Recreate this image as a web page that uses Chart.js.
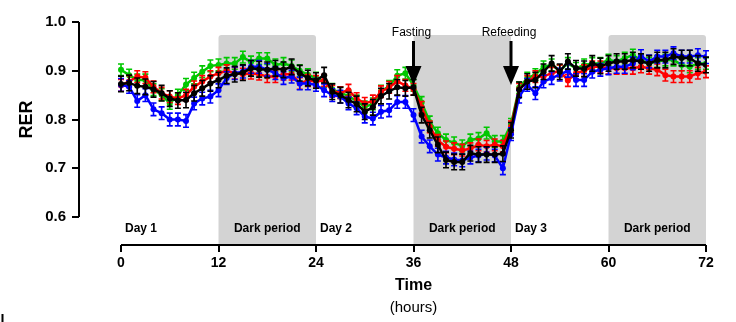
<!DOCTYPE html>
<html>
<head>
<meta charset="utf-8">
<script src="https://cdn.jsdelivr.net/npm/chart.js@4.4.1/dist/chart.umd.min.js"></script>
<style>
  html, body { margin: 0; padding: 0; background: #fff; }
</style>
</head>
<body>
<canvas id="rerChart" width="736" height="322"></canvas>
<script>
// hours of recording
const hours = [0,1,2,3,4,5,6,7,8,9,10,11,12,13,14,15,16,17,18,19,20,21,22,23,24,
  25,26,27,28,29,30,31,32,33,34,35,36,37,38,39,40,41,42,43,44,45,46,47,48,
  49,50,51,52,53,54,55,56,57,58,59,60,61,62,63,64,65,66,67,68,69,70,71,72];

// mean RER per hour, one list per group
const green = [0.902,0.891,0.881,0.881,0.861,0.851,0.833,0.850,0.872,0.885,
  0.898,0.910,0.912,0.915,0.915,0.928,0.918,0.925,0.925,0.912,
  0.915,0.910,0.900,0.892,0.885,0.878,0.862,0.855,0.848,0.838,
  0.826,0.832,0.858,0.868,0.890,0.895,0.870,0.835,0.795,0.772,
  0.758,0.752,0.746,0.758,0.761,0.772,0.755,0.755,0.790,0.865,
  0.885,0.892,0.908,0.912,0.900,0.915,0.905,0.912,0.915,0.915,
  0.922,0.919,0.926,0.932,0.922,0.915,0.919,0.922,0.922,0.912,
  0.908,0.915,0.915];
const red = [0.870,0.878,0.888,0.886,0.867,0.854,0.847,0.843,0.850,0.867,
  0.878,0.888,0.895,0.900,0.895,0.893,0.895,0.893,0.888,0.888,
  0.893,0.893,0.874,0.880,0.878,0.880,0.858,0.855,0.860,0.843,
  0.833,0.838,0.857,0.866,0.878,0.870,0.862,0.825,0.785,0.757,
  0.744,0.740,0.737,0.740,0.748,0.745,0.748,0.745,0.785,0.862,
  0.878,0.888,0.888,0.895,0.900,0.880,0.895,0.900,0.908,0.908,
  0.905,0.905,0.905,0.905,0.908,0.905,0.902,0.891,0.888,0.888,
  0.888,0.895,0.898];
const blue = [0.871,0.867,0.838,0.850,0.821,0.813,0.800,0.800,0.797,0.833,
  0.843,0.847,0.860,0.885,0.895,0.898,0.908,0.908,0.902,0.895,
  0.885,0.888,0.874,0.874,0.871,0.860,0.850,0.847,0.833,0.823,
  0.806,0.802,0.816,0.819,0.836,0.836,0.809,0.765,0.745,0.728,
  0.722,0.718,0.716,0.722,0.726,0.730,0.726,0.700,0.770,0.847,
  0.871,0.854,0.878,0.885,0.892,0.900,0.881,0.881,0.898,0.902,
  0.905,0.908,0.908,0.915,0.930,0.919,0.929,0.929,0.936,0.929,
  0.929,0.932,0.928];
const black = [0.873,0.875,0.869,0.867,0.862,0.854,0.843,0.839,0.840,0.854,
  0.864,0.874,0.881,0.890,0.893,0.896,0.905,0.903,0.902,0.905,
  0.902,0.908,0.895,0.885,0.880,0.891,0.857,0.850,0.840,0.832,
  0.816,0.825,0.848,0.858,0.866,0.864,0.866,0.809,0.778,0.748,
  0.717,0.713,0.713,0.731,0.728,0.728,0.728,0.730,0.778,0.861,
  0.878,0.881,0.898,0.915,0.898,0.919,0.905,0.904,0.915,0.910,
  0.915,0.919,0.919,0.922,0.919,0.915,0.922,0.922,0.929,0.926,
  0.926,0.915,0.912];

// rough SEM
const semGreen = 0.012, semRed = 0.012, semBlue = 0.013, semBlack = 0.016;

const xTicks = [0, 12, 24, 36, 48, 60, 72];
const yTicks = [0.6, 0.7, 0.8, 0.9, 1.0];
const darkPeriods = [[12, 24], [36, 48], [60, 72]];
const dayLabels = [[0, 'Day 1'], [24, 'Day 2'], [48, 'Day 3']];
const arrows = [[36, 'Fasting'], [48, 'Refeeding']];

const FONT = '"Liberation Sans", Arial, sans-serif';

function pts(vals) {
  return hours.map((h, i) => ({ x: h, y: vals[i] }));
}

function series(vals, sem, color, order) {
  return {
    data: pts(vals),
    sem: sem,
    borderColor: color,
    backgroundColor: color,
    borderWidth: 2.5,
    pointRadius: 3,
    pointBorderWidth: 0,
    pointBackgroundColor: color,
    tension: 0,
    order: order
  };
}

const decor = {
  id: 'decor',
  beforeDatasetsDraw(chart) {
    const ctx = chart.ctx, xs = chart.scales.x, area = chart.chartArea;
    ctx.save();
    ctx.fillStyle = '#d3d3d3';
    darkPeriods.forEach(p => {
      const x0 = xs.getPixelForValue(p[0]), x1 = xs.getPixelForValue(p[1]);
      ctx.beginPath();
      ctx.roundRect(x0, 35, x1 - x0, area.bottom - 35, [3, 3, 0, 0]);
      ctx.fill();
    });
    ctx.restore();
  },
  afterDatasetDraw(chart, args) {
    const ctx = chart.ctx, ys = chart.scales.y;
    const ds = chart.data.datasets[args.index];
    ctx.save();
    ctx.strokeStyle = ds.borderColor;
    ctx.lineWidth = 1.6;
    args.meta.data.forEach((el, i) => {
      const v = ds.data[i].y;
      const top = ys.getPixelForValue(v + ds.sem), bot = ys.getPixelForValue(v - ds.sem);
      ctx.beginPath();
      ctx.moveTo(el.x, top); ctx.lineTo(el.x, bot);
      ctx.moveTo(el.x - 3, top); ctx.lineTo(el.x + 3, top);
      ctx.moveTo(el.x - 3, bot); ctx.lineTo(el.x + 3, bot);
      ctx.stroke();
    });
    ctx.restore();
  },
  afterDraw(chart) {
    const ctx = chart.ctx, xs = chart.scales.x, ys = chart.scales.y, area = chart.chartArea;
    ctx.save();
    // axis lines (offset, Prism style)
    ctx.strokeStyle = '#000';
    ctx.lineWidth = 2;
    ctx.beginPath();
    ctx.moveTo(area.left, ys.getPixelForValue(1.0));
    ctx.lineTo(area.left, ys.getPixelForValue(0.6));
    ctx.moveTo(xs.getPixelForValue(0), area.bottom);
    ctx.lineTo(xs.getPixelForValue(72), area.bottom);
    // stray mark bottom left
    ctx.moveTo(2.5, 314); ctx.lineTo(2.5, 322);
    ctx.stroke();

    ctx.fillStyle = '#000';
    ctx.textBaseline = 'middle';
    // day / dark labels
    ctx.font = 'bold 12px ' + FONT;
    ctx.textAlign = 'left';
    dayLabels.forEach(d => ctx.fillText(d[1], xs.getPixelForValue(d[0]) + 4, 229));
    ctx.textAlign = 'center';
    darkPeriods.forEach(p => ctx.fillText('Dark period', xs.getPixelForValue((p[0] + p[1]) / 2), 229));

    // arrows
    ctx.font = '12px ' + FONT;
    arrows.forEach(a => {
      const x = xs.getPixelForValue(a[0]);
      ctx.fillText(a[1], x - 2, 33);
      ctx.beginPath();
      ctx.moveTo(x, 41); ctx.lineTo(x, 68);
      ctx.lineWidth = 3;
      ctx.stroke();
      ctx.beginPath();
      ctx.moveTo(x - 8, 66); ctx.lineTo(x + 8, 66); ctx.lineTo(x, 85);
      ctx.closePath();
      ctx.fill();
    });

    // axis titles
    const midX = (xs.getPixelForValue(0) + xs.getPixelForValue(72)) / 2;
    ctx.font = 'bold 16px ' + FONT;
    ctx.fillText('Time', midX, 286);
    ctx.font = '15px ' + FONT;
    ctx.fillText('(hours)', midX, 308);
    ctx.translate(27, (ys.getPixelForValue(1.0) + ys.getPixelForValue(0.6)) / 2);
    ctx.rotate(-Math.PI / 2);
    ctx.font = 'bold 18px ' + FONT;
    ctx.fillText('RER', 0, 0);
    ctx.restore();
  }
};

new Chart(document.getElementById('rerChart'), {
  type: 'line',
  data: {
    datasets: [
      series(green, semGreen, '#00c800', 3),
      series(red, semRed, '#ff0000', 2),
      series(blue, semBlue, '#0000ff', 1),
      series(black, semBlack, '#000000', 0)
    ]
  },
  options: {
    responsive: false,
    animation: false,
    devicePixelRatio: 1,
    layout: { padding: { left: 0, right: 30, top: 22, bottom: 0 } },
    plugins: { legend: { display: false }, tooltip: { enabled: false } },
    scales: {
      x: {
        type: 'linear',
        min: -5.17,
        max: 72,
        afterBuildTicks: s => { s.ticks = xTicks.map(v => ({ value: v })); },
        afterFit: s => { s.height = 77; },
        border: { display: false },
        grid: { drawOnChartArea: false, drawTicks: true, tickLength: 7, color: '#000', lineWidth: 2 },
        ticks: { autoSkip: false, maxRotation: 0, padding: 3, color: '#000',
          font: { family: FONT, size: 14, weight: 'bold' } }
      },
      y: {
        min: 0.5426,
        max: 1.0,
        afterBuildTicks: s => { s.ticks = yTicks.map(v => ({ value: v })); },
        afterFit: s => { s.width = 79; },
        border: { display: false },
        grid: { drawOnChartArea: false, drawTicks: true, tickLength: 7, color: '#000', lineWidth: 2 },
        ticks: { padding: 6, color: '#000', callback: v => v.toFixed(1),
          font: { family: FONT, size: 15, weight: 'bold' } }
      }
    }
  },
  plugins: [decor]
});
</script>
</body>
</html>
